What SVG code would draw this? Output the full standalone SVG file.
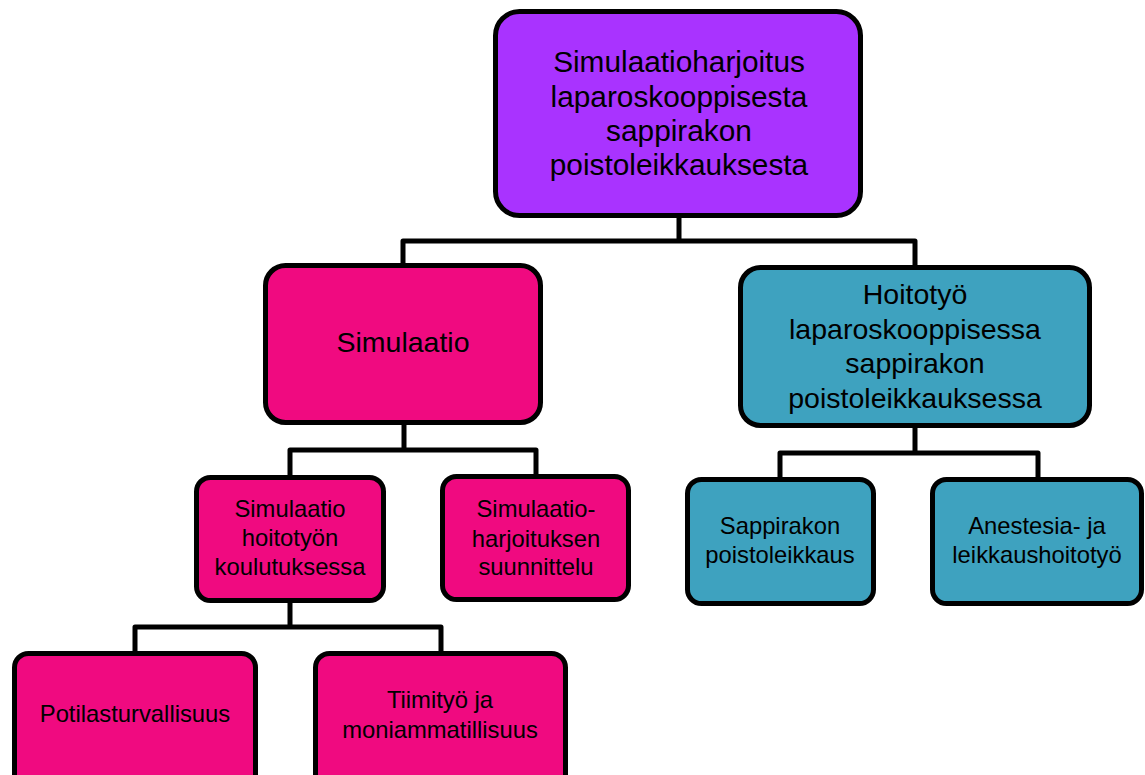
<svg xmlns="http://www.w3.org/2000/svg" width="1145" height="775" viewBox="0 0 1145 775">
<style>
.box{stroke:#000;stroke-width:5}
.purple{fill:#A933FF}
.pink{fill:#F00A80}
.teal{fill:#3EA2BF}
.conn{fill:none;stroke:#000;stroke-width:5;stroke-linejoin:round}
text{font-family:"Liberation Sans",Arial,sans-serif;fill:#000;text-anchor:middle}
.top{font-size:29.8px}
.big{font-size:28.5px}
.small{font-size:23.8px}
</style>
<rect width="1145" height="775" fill="#fff"/>
<g id="connectors">
<path class="conn" d="M679 216 V241 M403 266 V241 H915 V268"/>
<path class="conn" d="M404 423 V450 M290 478 V450 H536 V477"/>
<path class="conn" d="M915 426 V453 M780 480 V453 H1038 V480"/>
<path class="conn" d="M290 601 V627 M135 654 V627 H441 V654"/>
</g>
<g id="node-root">
<rect class="box purple" x="495.5" y="11.5" width="365" height="204" rx="24"/>
<text class="top" x="679" y="72">Simulaatioharjoitus</text>
<text class="top" x="679" y="106.5">laparoskooppisesta</text>
<text class="top" x="679" y="141">sappirakon</text>
<text class="top" x="679" y="175">poistoleikkauksesta</text>
</g>
<g id="node-simulaatio">
<rect class="box pink" x="265.5" y="265.5" width="275" height="157" rx="20"/>
<text class="big" x="403" y="352">Simulaatio</text>
</g>
<g id="node-hoitotyo">
<rect class="box teal" x="740.5" y="267.5" width="349" height="158" rx="20"/>
<text class="big" x="915" y="304">Hoitotyö</text>
<text class="big" x="915" y="339">laparoskooppisessa</text>
<text class="big" x="915" y="373">sappirakon</text>
<text class="big" x="915" y="408">poistoleikkauksessa</text>
</g>
<g id="node-koulutus">
<rect class="box pink" x="196.5" y="477.5" width="187" height="123" rx="14"/>
<text class="small" x="290" y="517">Simulaatio</text>
<text class="small" x="290" y="546">hoitotyön</text>
<text class="small" x="290" y="575">koulutuksessa</text>
</g>
<g id="node-suunnittelu">
<rect class="box pink" x="442.5" y="476.5" width="186" height="123" rx="14"/>
<text class="small" x="536" y="517">Simulaatio-</text>
<text class="small" x="536" y="547">harjoituksen</text>
<text class="small" x="536" y="575">suunnittelu</text>
</g>
<g id="node-sappirakon">
<rect class="box teal" x="687.5" y="479.5" width="186" height="124" rx="14"/>
<text class="small" x="780" y="534">Sappirakon</text>
<text class="small" x="780" y="563">poistoleikkaus</text>
</g>
<g id="node-anestesia">
<rect class="box teal" x="932.5" y="479.5" width="209" height="124" rx="14"/>
<text class="small" x="1037" y="534">Anestesia- ja</text>
<text class="small" x="1037" y="563">leikkaushoitotyö</text>
</g>
<g id="node-potilas">
<rect class="box pink" x="14.5" y="653.5" width="241" height="150" rx="14"/>
<text class="small" x="135" y="722">Potilasturvallisuus</text>
</g>
<g id="node-tiimityo">
<rect class="box pink" x="315.5" y="653.5" width="250" height="150" rx="14"/>
<text class="small" x="440" y="708">Tiimityö ja</text>
<text class="small" x="440" y="738">moniammatillisuus</text>
</g>
</svg>
